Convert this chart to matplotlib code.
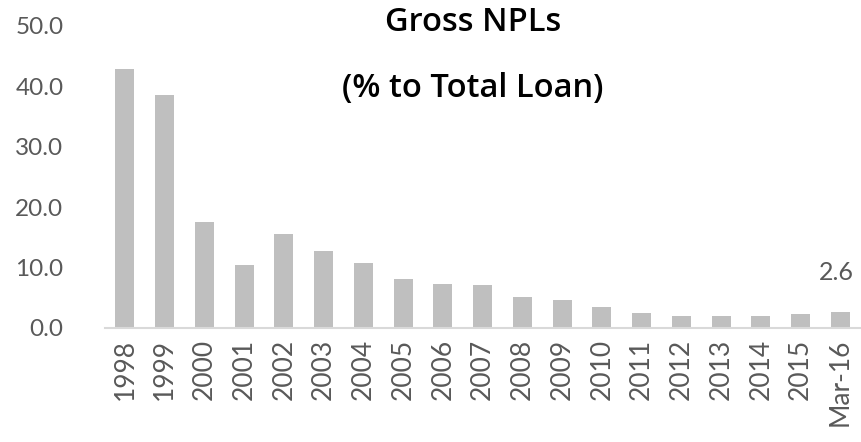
import matplotlib.pyplot as plt
import numpy as np

# categories and NPL ratio (% of total loans)
years = ['1998', '1999', '2000', '2001', '2002', '2003', '2004', '2005', '2006',
         '2007', '2008', '2009', '2010', '2011', '2012', '2013', '2014', '2015', 'Mar-16']
npl = [42.8, 38.5, 17.5, 10.4, 15.5, 12.7, 10.7, 8.1, 7.3,
       7.1, 5.1, 4.6, 3.4, 2.5, 2.0, 2.0, 2.0, 2.3, 2.6]

plt.rcParams['font.family'] = ['Lato', 'DejaVu Sans']
grey_txt = '#595959'

fig = plt.figure(figsize=(8.61, 4.42), dpi=100)
ax = fig.add_axes([0.122, 0.258, 0.877, 0.684])

x = np.arange(len(years))
ax.bar(x, npl, width=0.48, color='#bfbfbf', zorder=2)

# last value label
ax.annotate(f'{npl[-1]:.1f}', (x[-1], npl[-1]), xytext=(-3, 20), textcoords='offset points',
            ha='center', va='bottom', fontsize=18, color=grey_txt)

ax.set_xlim(-0.5, len(years) - 0.5)
ax.set_ylim(0, 50)
ax.set_yticks(np.arange(0, 51, 10))
ax.set_yticklabels([f'{v:.1f}' for v in np.arange(0, 51, 10)])
ax.set_xticks(x)
ax.set_xticklabels(years, rotation=90)
ax.tick_params(axis='both', length=0, labelcolor=grey_txt)
ax.tick_params(axis='y', pad=30, labelsize=17.5)
ax.tick_params(axis='x', pad=8, labelsize=19)

for s in ['top', 'right', 'left']:
    ax.spines[s].set_visible(False)
ax.spines['bottom'].set_color('#d9d9d9')
ax.spines['bottom'].set_linewidth(1.5)

title_font = ['Open Sans', 'DejaVu Sans']
fig.text(0.549, 0.95, 'Gross NPLs', ha='center', va='center', fontsize=23.5,
         fontweight='semibold', color='black', family=title_font)
fig.text(0.549, 0.80, '(% to Total Loan)', ha='center', va='center', fontsize=23.5,
         fontweight='semibold', color='black', family=title_font)

plt.savefig('out.png', dpi=100)
